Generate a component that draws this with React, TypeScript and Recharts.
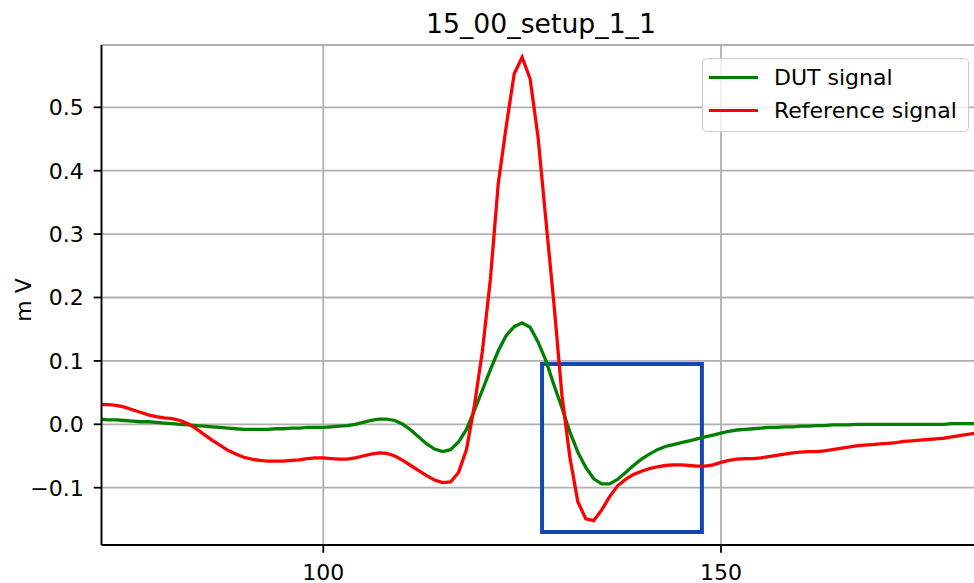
import React from 'react'
import {
  LineChart,
  Line,
  XAxis,
  YAxis,
  CartesianGrid,
  ReferenceArea,
  Legend,
} from 'recharts'

// samples are one per integer step, starting at x = 72
const X_START = 72

const dutSignal = [
  0.008, 0.007, 0.007, 0.006, 0.005, 0.004, 0.004, 0.003, 0.002, 0.001,
  0.0, -0.001, -0.002, -0.003, -0.004, -0.005, -0.006, -0.007, -0.008, -0.008,
  -0.008, -0.008, -0.007, -0.007, -0.006, -0.006, -0.005, -0.005, -0.005, -0.004,
  -0.003, -0.002, 0.0, 0.003, 0.006, 0.008, 0.008, 0.006, 0.0, -0.009,
  -0.02, -0.031, -0.039, -0.043, -0.04, -0.028, -0.008, 0.022, 0.054, 0.086,
  0.116, 0.14, 0.154, 0.16, 0.153, 0.13, 0.1, 0.062, 0.026, -0.012,
  -0.044, -0.068, -0.086, -0.094, -0.094, -0.087, -0.076, -0.065, -0.055, -0.047,
  -0.04, -0.035, -0.032, -0.029, -0.026, -0.023, -0.02, -0.017, -0.014, -0.011,
  -0.009, -0.008, -0.007, -0.006, -0.005, -0.005, -0.004, -0.004, -0.003, -0.003,
  -0.002, -0.002, -0.001, -0.001, -0.001, 0.0, 0.0, 0.0, 0.0, 0.0,
  0.0, 0.0, 0.0, 0.0, 0.0, 0.0, 0.0, 0.001, 0.001, 0.001,
  0.001,
]

const referenceSignal = [
  0.031, 0.031, 0.03, 0.027, 0.023, 0.019, 0.015, 0.012, 0.01, 0.009,
  0.006, 0.001, -0.007, -0.016, -0.025, -0.033, -0.041, -0.047, -0.052, -0.055,
  -0.057, -0.058, -0.058, -0.058, -0.057, -0.056, -0.054, -0.053, -0.053, -0.054,
  -0.055, -0.055, -0.053, -0.05, -0.047, -0.045, -0.046, -0.05, -0.057, -0.065,
  -0.073, -0.081, -0.088, -0.092, -0.091, -0.076, -0.04, 0.03, 0.115, 0.228,
  0.38, 0.47, 0.553, 0.579, 0.545, 0.453, 0.32, 0.19, 0.046, -0.052,
  -0.122, -0.149, -0.152, -0.135, -0.114, -0.097, -0.087, -0.079, -0.074, -0.07,
  -0.067, -0.065, -0.064, -0.064, -0.065, -0.066, -0.066, -0.064, -0.06, -0.057,
  -0.055, -0.054, -0.054, -0.053, -0.051, -0.049, -0.047, -0.045, -0.044, -0.043,
  -0.043, -0.042, -0.04, -0.038, -0.036, -0.034, -0.033, -0.032, -0.031, -0.03,
  -0.029, -0.027, -0.026, -0.025, -0.024, -0.023, -0.022, -0.02, -0.018, -0.016,
  -0.014,
]

const xTicks = [100, 150]
const yTicks = [-0.1, 0, 0.1, 0.2, 0.3, 0.4, 0.5]

// highlighted window (x from / to, y from / to)
const boxX = [127.5, 147.6]
const boxY = [-0.17, 0.095]

const FONT = '"DejaVu Sans", sans-serif'
const DUT_COLOUR = '#008000'
const REF_COLOUR = '#ff0000'
const GRID_COLOUR = '#b0b0b0'
const BOX_COLOUR = '#1448b0'

const data = dutSignal.map((v, i) => ({
  x: X_START + i,
  dut: v,
  ref: referenceSignal[i],
}))

const fmtY = (v: number) => (v < 0 ? '\u2212' + Math.abs(v).toFixed(1) : v.toFixed(1))

function LegendBox() {
  const items = [
    { label: 'DUT signal', color: DUT_COLOUR },
    { label: 'Reference signal', color: REF_COLOUR },
  ]
  return (
    <div
      style={{
        width: 267,
        height: 74,
        boxSizing: 'border-box',
        border: '1.5px solid #cccccc',
        borderRadius: 5,
        background: 'rgba(255,255,255,0.8)',
        fontFamily: FONT,
        fontSize: 22,
        color: '#000',
        paddingTop: 2,
      }}
    >
      {items.map((it) => (
        <div key={it.label} style={{ display: 'flex', alignItems: 'center', height: 33 }}>
          <div style={{ width: 49, height: 3.3, background: it.color, marginLeft: 6, marginRight: 16 }} />
          <span>{it.label}</span>
        </div>
      ))}
    </div>
  )
}

export default function App() {
  return (
    <div
      style={{
        position: 'absolute',
        left: 0,
        top: 0,
        width: 974,
        height: 583,
        overflow: 'hidden',
        background: '#fff',
        fontFamily: FONT,
      }}
    >
      <div
        style={{
          position: 'absolute',
          left: 341,
          width: 400,
          top: 8,
          textAlign: 'center',
          fontSize: 26.7,
          color: '#000',
        }}
      >
        15_00_setup_1_1
      </div>
      <div
        style={{
          position: 'absolute',
          left: 23,
          top: 300,
          transform: 'translate(-50%, -50%) rotate(-90deg)',
          fontSize: 22,
          color: '#000',
          whiteSpace: 'nowrap',
        }}
      >
        m V
      </div>
      <LineChart
        width={990}
        height={583}
        data={data}
        margin={{ top: 45, right: 0, bottom: 0, left: 0 }}
        style={{ position: 'absolute', left: 0, top: 0 }}
      >
        <CartesianGrid stroke={GRID_COLOUR} strokeWidth={1.8} />
        <XAxis
          dataKey="x"
          type="number"
          domain={[72.115, 183.82]}
          allowDataOverflow
          ticks={xTicks}
          height={38}
          tickSize={7.8}
          tickMargin={12}
          tick={{ fontSize: 22, fill: '#000', fontFamily: FONT }}
          axisLine={{ stroke: '#000', strokeWidth: 1.8 }}
          tickLine={{ stroke: '#000', strokeWidth: 1.8 }}
        />
        <XAxis
          xAxisId="top"
          dataKey="x"
          type="number"
          orientation="top"
          domain={[72.115, 183.82]}
          allowDataOverflow
          height={0}
          tick={false}
          tickLine={false}
          axisLine={{ stroke: '#000', strokeWidth: 1.8 }}
        />
        <YAxis
          type="number"
          domain={[-0.1904, 0.5983]}
          allowDataOverflow
          ticks={yTicks}
          width={101.5}
          tickSize={7.8}
          tickMargin={10}
          tickFormatter={fmtY}
          tick={{ fontSize: 22, fill: '#000', fontFamily: FONT }}
          axisLine={{ stroke: '#000', strokeWidth: 1.8 }}
          tickLine={{ stroke: '#000', strokeWidth: 1.8 }}
        />
        <Line
          type="linear"
          dataKey="dut"
          name="DUT signal"
          stroke={DUT_COLOUR}
          strokeWidth={3.3}
          dot={false}
          isAnimationActive={false}
        />
        <Line
          type="linear"
          dataKey="ref"
          name="Reference signal"
          stroke={REF_COLOUR}
          strokeWidth={3.3}
          dot={false}
          isAnimationActive={false}
        />
        <ReferenceArea
          x1={boxX[0]}
          x2={boxX[1]}
          y1={boxY[0]}
          y2={boxY[1]}
          fill="none"
          fillOpacity={0}
          stroke={BOX_COLOUR}
          strokeWidth={4}
        />
        <Legend
          layout="vertical"
          align="center"
          verticalAlign="middle"
          content={() => <LegendBox />}
          wrapperStyle={{ position: 'absolute', left: 702, top: 58, width: 267, height: 74 }}
        />
      </LineChart>
    </div>
  )
}
